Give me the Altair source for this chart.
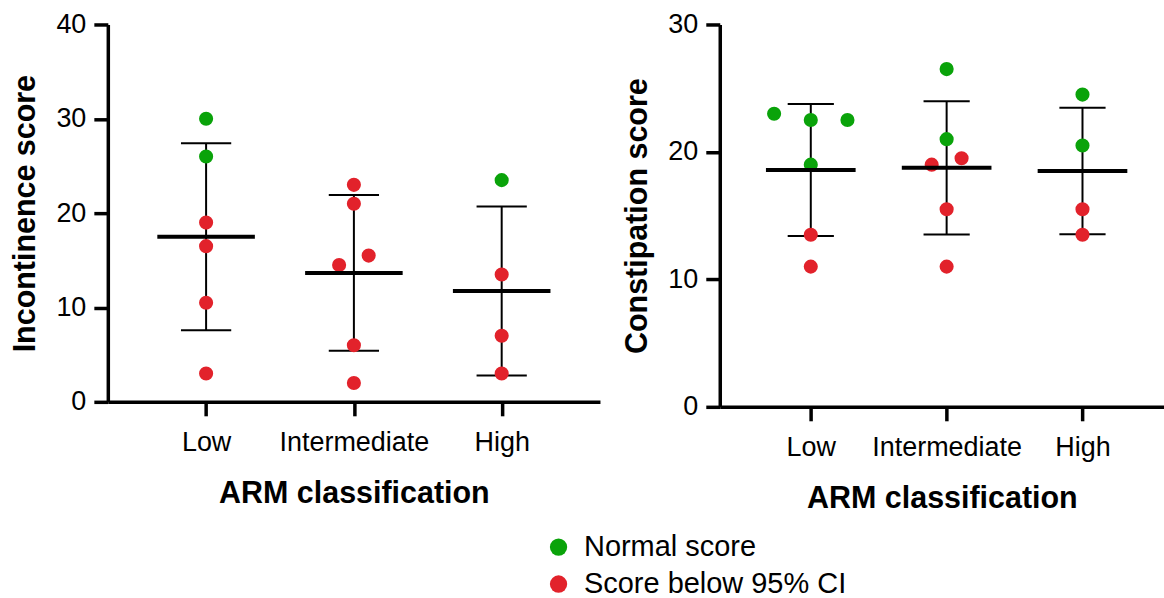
import json
import altair as alt
import pandas as pd

# ---------------- data ----------------
categories = ["Low", "Intermediate", "High"]
status_names = ["Normal score", "Score below 95% CI"]
status_colors = ["#0AA30A", "#E2222B"]

# Incontinence score (left panel)
inc_category = ["Low"] * 6 + ["Intermediate"] * 6 + ["High"] * 4
inc_score = [30, 26, 19, 16.5, 10.5, 3,
             23, 21, 14.5, 15.5, 6, 2,
             23.5, 13.5, 7, 3]
inc_status = [0, 0, 1, 1, 1, 1,
              1, 1, 1, 1, 1, 1,
              0, 1, 1, 1]
inc_jitter = [0, 0, 0, 0, 0, 0,
              0, 0, -0.1, 0.1, 0, 0,
              0, 0, 0, 0]

# Constipation score (right panel)
con_category = ["Low"] * 6 + ["Intermediate"] * 6 + ["High"] * 4
con_score = [23, 22.5, 22.5, 19, 13.5, 11,
             26.5, 21, 19, 19.5, 15.5, 11,
             24.5, 20.5, 15.5, 13.5]
con_status = [0, 0, 0, 0, 1, 1,
              0, 0, 1, 1, 1, 1,
              0, 0, 1, 1]
con_jitter = [-0.27, 0, 0.27, 0, 0, 0,
              0, 0, -0.11, 0.11, 0, 0,
              0, 0, 0, 0]

FONT = "Liberation Sans"


def make_df(cats, scores, status, jitter):
    return pd.DataFrame({
        "category": cats,
        "idx": [categories.index(c) + 1 for c in cats],
        "score": scores,
        "status": [status_names[s] for s in status],
        "jitter": jitter,
    })


label_expr = json.dumps(categories) + "[datum.value - 1]"


def panel(df, ytitle, ymax, ystep, xdomain, width, height):
    xscale = alt.Scale(domain=xdomain, nice=False, zero=False)
    yscale = alt.Scale(domain=[0, ymax], nice=False)
    xaxis = alt.Axis(values=[1, 2, 3], labelExpr=label_expr,
                     title="ARM classification")
    yaxis = alt.Axis(values=list(range(0, ymax + 1, ystep)), title=ytitle)

    base = alt.Chart(df)

    stats = base.transform_aggregate(
        mean="mean(score)", sd="stdev(score)", groupby=["idx"]
    ).transform_calculate(
        lo="datum.mean - datum.sd",
        hi="datum.mean + datum.sd",
        cl="datum.idx - 0.17",
        cr="datum.idx + 0.17",
        ml="datum.idx - 0.33",
        mr="datum.idx + 0.33",
    )

    vline = stats.mark_rule(color="black", strokeWidth=2).encode(
        x=alt.X("idx:Q", scale=xscale, axis=xaxis),
        y=alt.Y("lo:Q", scale=yscale, axis=yaxis),
        y2="hi:Q",
    )
    cap_hi = stats.mark_rule(color="black", strokeWidth=2).encode(
        x=alt.X("cl:Q", scale=xscale), x2="cr:Q",
        y=alt.Y("hi:Q", scale=yscale),
    )
    cap_lo = stats.mark_rule(color="black", strokeWidth=2).encode(
        x=alt.X("cl:Q", scale=xscale), x2="cr:Q",
        y=alt.Y("lo:Q", scale=yscale),
    )
    mean_line = stats.mark_rule(color="black", strokeWidth=4).encode(
        x=alt.X("ml:Q", scale=xscale), x2="mr:Q",
        y=alt.Y("mean:Q", scale=yscale),
    )
    points = base.transform_calculate(
        xpos="datum.idx + datum.jitter"
    ).mark_circle(size=200, opacity=1).encode(
        x=alt.X("xpos:Q", scale=xscale),
        y=alt.Y("score:Q", scale=yscale),
        color=alt.Color(
            "status:N",
            scale=alt.Scale(domain=status_names, range=status_colors),
            legend=alt.Legend(
                title=None, orient="none", legendX=437, legendY=509,
                direction="vertical", symbolSize=300, symbolType="circle",
                labelFontSize=29, labelFont=FONT, labelColor="black",
                labelOffset=11, rowPadding=7, symbolStrokeWidth=0,
                labelLimit=500,
            ),
        ),
    )
    return alt.layer(vline, cap_hi, cap_lo, points, mean_line).properties(
        width=width, height=height
    )


left = panel(make_df(inc_category, inc_score, inc_status, inc_jitter),
             "Incontinence score", 40, 10, [0.335, 3.665], 493, 378)
right = panel(make_df(con_category, con_score, con_status, con_jitter),
              "Constipation score", 30, 10, [0.33, 3.6], 445, 383)

chart = alt.hconcat(left, right, spacing=22).properties(
    padding={"left": 10, "top": 10, "right": 0, "bottom": 0}
).configure_view(stroke=None).configure_axis(
    grid=False,
    domainColor="black", domainWidth=3.5,
    tickColor="black", tickWidth=3.5, tickSize=14,
    labelFont=FONT, labelFontSize=27, labelColor="black", labelPadding=8,
    titleFont=FONT, titleFontSize=30.5, titleFontWeight="bold",
    titleColor="black", titlePadding=15,
).configure_axisX(
    labelPadding=14, titlePadding=23,
)

chart.save("out.html", embed_options={"renderer": "svg", "actions": False})
